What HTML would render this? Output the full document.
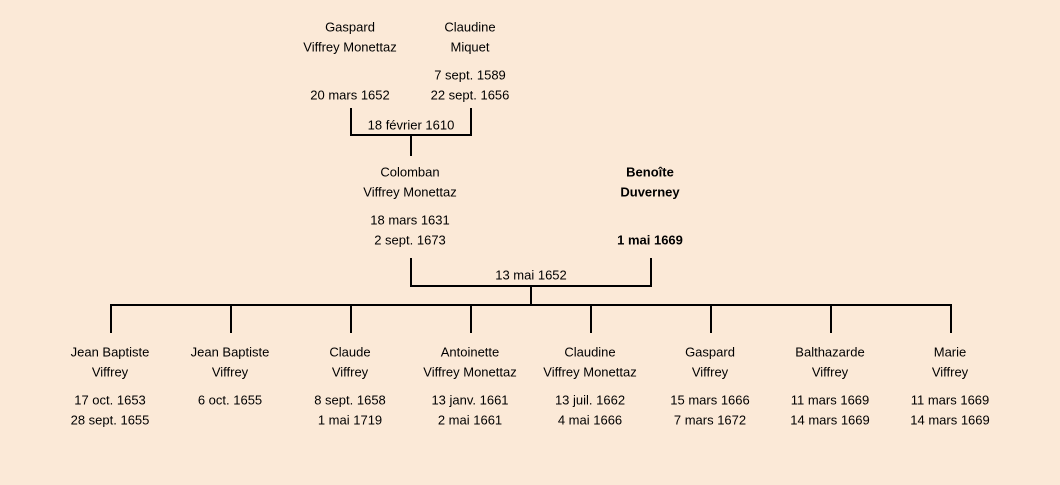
<!DOCTYPE html>
<html><head><meta charset="utf-8"><style>
html,body{margin:0;padding:0;background:#fbe9d7;}
svg{display:block}
text{font-family:"Liberation Sans",sans-serif;font-size:13px;fill:#000;text-anchor:middle;dominant-baseline:middle}
.b{font-weight:bold}
</style></head><body>
<svg width="1060" height="485" viewBox="0 0 1060 485">
<rect width="1060" height="485" fill="#fbe9d7"/>
<g stroke="#000" stroke-width="2" fill="none">
<path d="M351 108V135H471V108M411 135V156"/>
<path d="M411 258V286H651V258M531 286V305"/>
<path d="M111 333V305H951V333M231 305V333M351 305V333M471 305V333M591 305V333M711 305V333M831 305V333"/>
</g>
<g transform="translate(0,1)">
<text x="350" y="27">Gaspard</text><text x="350" y="47">Viffrey Monettaz</text>
<text x="350" y="95">20 mars 1652</text>
<text x="470" y="27">Claudine</text><text x="470" y="47">Miquet</text>
<text x="470" y="75">7 sept. 1589</text><text x="470" y="95">22 sept. 1656</text>
<text x="411" y="125">18 février 1610</text>
<text x="410" y="172">Colomban</text><text x="410" y="192">Viffrey Monettaz</text>
<text x="410" y="220">18 mars 1631</text><text x="410" y="240">2 sept. 1673</text>
<text class="b" x="650" y="172">Benoîte</text><text class="b" x="650" y="192">Duverney</text>
<text class="b" x="650" y="240">1 mai 1669</text>
<text x="531" y="275">13 mai 1652</text>
<text x="110" y="352">Jean Baptiste</text><text x="110" y="372">Viffrey</text><text x="110" y="400">17 oct. 1653</text><text x="110" y="420">28 sept. 1655</text>
<text x="230" y="352">Jean Baptiste</text><text x="230" y="372">Viffrey</text><text x="230" y="400">6 oct. 1655</text>
<text x="350" y="352">Claude</text><text x="350" y="372">Viffrey</text><text x="350" y="400">8 sept. 1658</text><text x="350" y="420">1 mai 1719</text>
<text x="470" y="352">Antoinette</text><text x="470" y="372">Viffrey Monettaz</text><text x="470" y="400">13 janv. 1661</text><text x="470" y="420">2 mai 1661</text>
<text x="590" y="352">Claudine</text><text x="590" y="372">Viffrey Monettaz</text><text x="590" y="400">13 juil. 1662</text><text x="590" y="420">4 mai 1666</text>
<text x="710" y="352">Gaspard</text><text x="710" y="372">Viffrey</text><text x="710" y="400">15 mars 1666</text><text x="710" y="420">7 mars 1672</text>
<text x="830" y="352">Balthazarde</text><text x="830" y="372">Viffrey</text><text x="830" y="400">11 mars 1669</text><text x="830" y="420">14 mars 1669</text>
<text x="950" y="352">Marie</text><text x="950" y="372">Viffrey</text><text x="950" y="400">11 mars 1669</text><text x="950" y="420">14 mars 1669</text>
</g>
</svg>
</body></html>
